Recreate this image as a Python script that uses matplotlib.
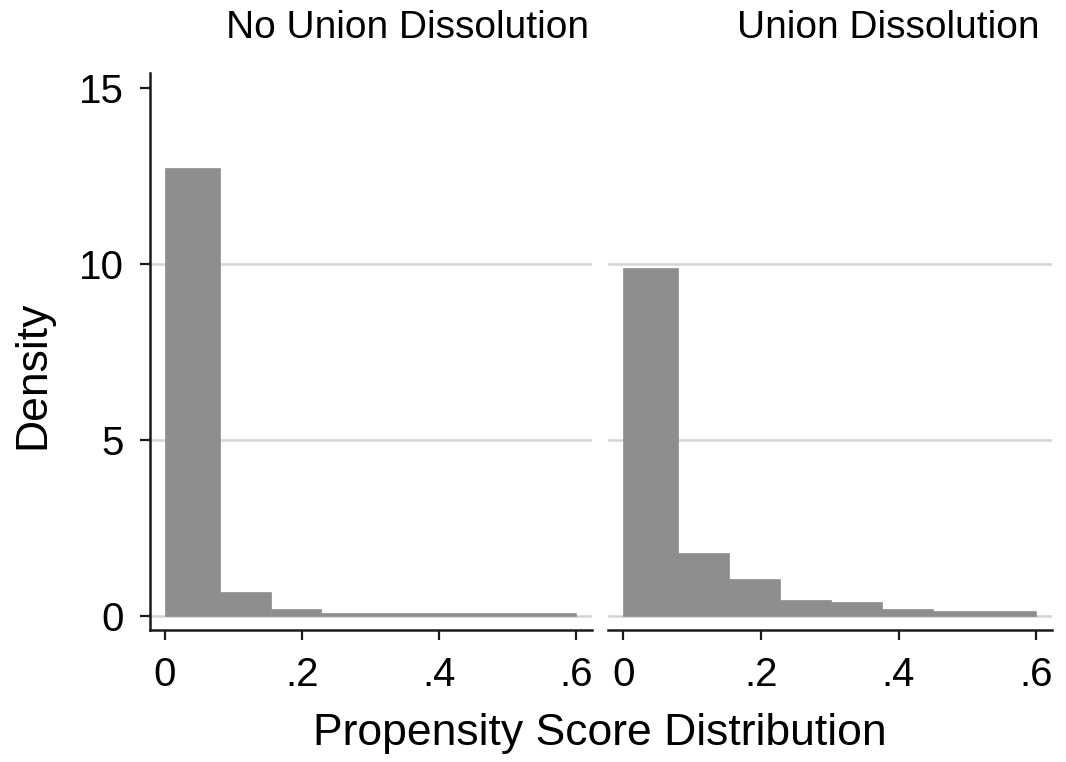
import numpy as np
import matplotlib.pyplot as plt

plt.rcParams['font.family'] = ['Liberation Sans', 'DejaVu Sans']

# bin edges of the propensity score histogram
bin_edges = [0, 0.08, 0.154, 0.228, 0.302, 0.376, 0.45, 0.525, 0.6]
# densities per bin
dens_no_union = [12.73, 0.67, 0.19, 0.077, 0.077, 0.077, 0.077, 0.077]
dens_union = [9.9, 1.78, 1.04, 0.45, 0.40, 0.21, 0.15, 0.15]
panel_titles = ['No Union Dissolution', 'Union Dissolution']
xticks = [0, 0.2, 0.4, 0.6]
xticklabels = ['0', '.2', '.4', '.6']
yticks = [0, 5, 10, 15]
ygrid = [0, 5, 10]

bar_color = '#8e8e8e'
axis_color = '#1a1a1a'

fig = plt.figure(figsize=(10.66, 7.62), dpi=100)
ax1 = fig.add_axes([0.1407, 0.1732, 0.4146, 0.731])
ax2 = fig.add_axes([0.5704, 0.1732, 0.4165, 0.731])

edges = np.array(bin_edges)
for ax, dens in [(ax1, dens_no_union), (ax2, dens_union)]:
    for y in ygrid:
        ax.axhline(y, color='#d4d4d4', lw=1.8, zorder=0)
    ax.bar(edges[:-1], dens, width=np.diff(edges), align='edge',
           color=bar_color, edgecolor=bar_color, linewidth=0.5, zorder=2)
    ax.set_xlim(-0.022, 0.623)
    ax.set_ylim(-0.4, 15.43)
    ax.set_xticks(xticks)
    ax.set_xticklabels(xticklabels)
    for s in ['top', 'right']:
        ax.spines[s].set_visible(False)
    ax.spines['bottom'].set_color(axis_color)
    ax.spines['bottom'].set_linewidth(1.8)
    ax.tick_params(axis='x', length=7, width=1.6, color=axis_color,
                   labelsize=29, pad=12)

ax1.spines['left'].set_color(axis_color)
ax1.spines['left'].set_linewidth(1.8)
ax1.set_yticks(yticks)
ax1.tick_params(axis='y', length=7, width=1.6, color=axis_color,
                labelsize=29, pad=12)

ax2.spines['left'].set_visible(False)
ax2.set_yticks([])

fig.text(0.382, 0.963, panel_titles[0], fontsize=28, ha='center', va='center')
fig.text(0.833, 0.963, panel_titles[1], fontsize=28, ha='center', va='center')
fig.text(0.563, 0.038, 'Propensity Score Distribution', fontsize=32,
         ha='center', va='center')
fig.text(0.031, 0.508, 'Density', fontsize=32, rotation=90,
         ha='center', va='center')

fig.savefig('out.png', dpi=100)
